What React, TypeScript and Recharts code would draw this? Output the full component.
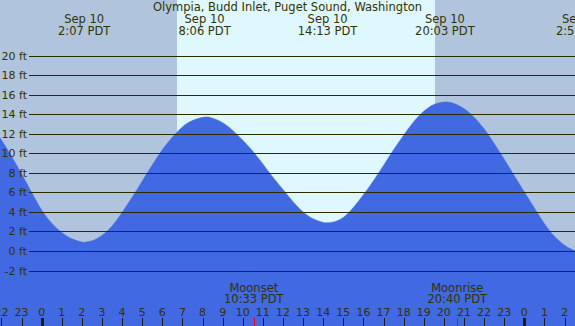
import React from "react";
import { ComposedChart, Area, XAxis, YAxis, ReferenceArea, ReferenceLine } from "recharts";

// tide height, every half hour plus the turning points (hour of Sep 10, feet)
const tideHours = [
  -2.5, -2, -1.5, -1, -0.5, 0, 0.5, 1, 1.5, 2, 2.12, 2.5, 3, 3.5, 4, 4.5, 5,
  5.5, 6, 6.5, 7, 7.5, 8.1, 8.5, 9, 9.5, 10, 10.5, 11, 11.5, 12, 12.5, 13, 13.5,
  14, 14.22, 14.5, 15, 15.5, 16, 16.5, 17, 17.5, 18, 18.5, 19, 19.5, 20.05,
  20.5, 21, 21.5, 22, 22.5, 23, 23.5, 24, 24.5, 25, 25.5, 26, 26.5, 27,
];
const tideFeet = [
  12.8, 11.35, 9.7, 7.9, 6.0, 4.2, 2.85, 1.9, 1.25, 0.92, 0.9, 1.05, 1.6,
  2.55, 3.95, 5.5, 7.15, 8.8, 10.35, 11.65, 12.7, 13.35, 13.7, 13.59, 13.13,
  12.34, 11.33, 10.2, 8.9, 7.55, 6.3, 5.05, 4.0, 3.3, 2.93, 2.9, 2.97, 3.44,
  4.45, 5.75, 7.2, 8.75, 10.35, 11.85, 13.22, 14.29, 14.98, 15.25, 15.1, 14.57,
  13.69, 12.5, 11.0, 9.4, 7.7, 6.05, 4.4, 2.8, 1.5, 0.6, 0.05, -0.2,
];

// high / low labels along the top
const extremeHours = [2.117, 8.1, 14.217, 20.05, 26.87];
const extremeDates = ["Sep 10", "Sep 10", "Sep 10", "Sep 10", "Sep 11"];
const extremeTimes = ["2:07 PDT", "8:06 PDT", "14:13 PDT", "20:03 PDT", "2:52 PDT"];

// moon events along the bottom
const moonHours = [10.55, 20.667];
const moonNames = ["Moonset", "Moonrise"];
const moonTimes = ["10:33 PDT", "20:40 PDT"];

const hourTicks = [
  -2, -1, 0, 1, 2, 3, 4, 5, 6, 7, 8, 9, 10, 11, 12, 13, 14, 15, 16, 17, 18, 19,
  20, 21, 22, 23, 24, 25, 26,
];
const feetTicks = [-2, 0, 2, 4, 6, 8, 10, 12, 14, 16, 18, 20];

const sunrise = 6.73;
const sunset = 19.56;

const W = 575;
const H = 326;
const X_DOMAIN: [number, number] = [-2.07, 26.52];
const Y_DOMAIN: [number, number] = [-7.67, 25.68];

const INK = "#333300";
const FONT = "'DejaVu Sans', sans-serif";

const data = tideHours.map((h, i) => ({ h, ft: tideFeet[i] }));
const bottomTicks = [...hourTicks, ...moonHours].sort((a, b) => a - b);

const renderBottomTick = (props: any) => {
  const { x, payload } = props;
  const v = payload.value as number;
  const px = Math.round(x) + 0.5;
  const m = moonHours.indexOf(v);
  if (m >= 0) {
    return (
      <g key={`m${m}`}>
        <line x1={px} x2={px} y1={H - 8} y2={H} stroke="#ff0000" strokeWidth={1} />
        <text x={x} y={H - 34.5} textAnchor="middle" fill={INK} fontSize={11.5} fontFamily={FONT}>
          {moonNames[m]}
        </text>
        <text x={x} y={H - 22.7} textAnchor="middle" fill={INK} fontSize={11.5} fontFamily={FONT}>
          {moonTimes[m]}
        </text>
      </g>
    );
  }
  const midnight = v % 24 === 0;
  return (
    <g key={`h${v}`}>
      <line x1={px} x2={px} y1={H - 8} y2={H} stroke="#1a1a1a" strokeWidth={midnight ? 3 : 1} />
      <text x={x} y={H - 10} textAnchor="middle" fill={INK} fontSize={11} fontFamily={FONT}>
        {(v + 24) % 24}
      </text>
    </g>
  );
};

const extremeLabel = (i: number) => (props: any) => {
  const x = props.viewBox ? props.viewBox.x : 0;
  return (
    <g>
      <text x={x} y={23.3} textAnchor="middle" fill={INK} fontSize={11.5} fontFamily={FONT}>
        {extremeDates[i]}
      </text>
      <text x={x} y={35.3} textAnchor="middle" fill={INK} fontSize={11.5} fontFamily={FONT}>
        {extremeTimes[i]}
      </text>
    </g>
  );
};

const renderFeetTick = (props: any) => {
  const { y, payload } = props;
  const py = Math.round(y) + 0.5;
  return (
    <g key={`f${payload.value}`}>
      <line x1={29} x2={W} y1={py} y2={py} stroke="#2b2b00" strokeWidth={1} />
      <text x={27} y={y + 4} textAnchor="end" fill={INK} fontSize={11} fontFamily={FONT}>
        {payload.value} ft
      </text>
    </g>
  );
};

export default function App() {
  return (
    <div
      style={{
        position: "absolute",
        left: 0,
        top: 0,
        width: W,
        height: H,
        background: "#b0c4de",
        overflow: "hidden",
      }}
    >
      <ComposedChart
        width={W}
        height={H}
        data={data}
        margin={{ top: 0, right: 0, bottom: -1, left: -1 }}
      >
        <ReferenceArea
          xAxisId="hours"
          x1={sunrise}
          x2={sunset}
          fill="#dff7ff"
          fillOpacity={1}
          stroke="none"
        />
        <Area
          xAxisId="hours"
          dataKey="ft"
          type="natural"
          fill="#4169e1"
          fillOpacity={1}
          stroke="#4169e1"
          strokeWidth={0.5}
          baseValue={Y_DOMAIN[0]}
          isAnimationActive={false}
        />
        {extremeHours.map((h, i) => (
          <ReferenceLine
            key={`e${i}`}
            xAxisId="hours"
            x={h}
            stroke="none"
            ifOverflow="visible"
            label={{ content: extremeLabel(i) }}
          />
        ))}
        <XAxis
          xAxisId="hours"
          dataKey="h"
          type="number"
          domain={X_DOMAIN}
          allowDataOverflow
          ticks={bottomTicks}
          interval={0}
          height={1}
          axisLine={false}
          tickLine={false}
          tick={renderBottomTick}
        />
        <YAxis
          type="number"
          domain={Y_DOMAIN}
          allowDataOverflow
          ticks={feetTicks}
          interval={0}
          width={1}
          axisLine={false}
          tickLine={false}
          tick={renderFeetTick}
        />
      </ComposedChart>
      <div
        style={{
          position: "absolute",
          left: 0,
          top: 0,
          width: W,
          textAlign: "center",
          fontFamily: FONT,
          fontSize: 11.5,
          lineHeight: "14px",
          color: INK,
        }}
      >
        Olympia, Budd Inlet, Puget Sound, Washington
      </div>
    </div>
  );
}
